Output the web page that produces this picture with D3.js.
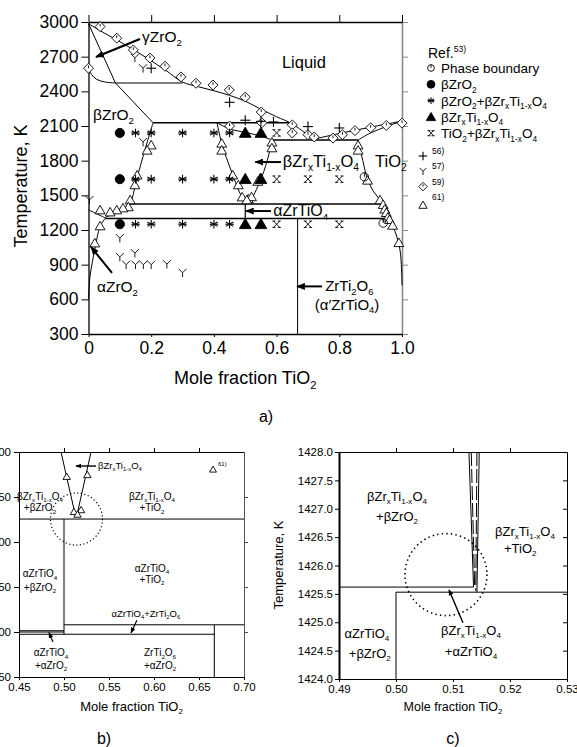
<!DOCTYPE html>
<html><head><meta charset="utf-8">
<script src="https://cdn.jsdelivr.net/npm/d3@7"></script>
<style>
html,body{margin:0;padding:0;background:#fff;}
svg{display:block;}
text{font-family:"Liberation Sans",Arial,Helvetica,sans-serif;fill:#000;}
</style>
</head><body>
<svg id="fig" width="577" height="747"></svg>
<script>
// ---------------- ZrO2–TiO2 phase diagram: data ----------------
// Panel a axes
const xTicksA = [0, 0.2, 0.4, 0.6, 0.8, 1.0];
const xTickLabelsA = ["0", "0.2", "0.4", "0.6", "0.8", "1.0"];
const yTicksA = [300, 600, 900, 1200, 1500, 1800, 2100, 2400, 2700, 3000];

// Phase boundaries [mole fraction TiO2, K]
const liquidusZrO2 = [[0,2985],[0.05,2905],[0.1,2830],[0.15,2750],[0.2,2665],[0.25,2575],[0.3,2480],[0.35,2440],[0.4,2405],[0.45,2365],[0.5,2315],[0.55,2245],[0.6,2180],[0.65,2118],[0.717,1985]];
const gammaSolidus = [[0,2985],[0.086,2472],[0.206,2128]];
const gammaBeta = [[0,2600],[0.01,2545],[0.025,2505],[0.05,2482],[0.086,2472]];
const invariant2472 = [[0.086,2472],[0.30,2472]];
const invariant2128 = [[0.206,2128],[0.642,2128]];
const betaZrO2Solvus = [[0.206,2128],[0.18,1894],[0.155,1650],[0.138,1460],[0.133,1425],[0.115,1378],[0.085,1345],[0.053,1308]];
const betaAlphaZrO2 = [[0,1375],[0.03,1335],[0.053,1305]];
const alphaZrO2Solvus = [[0,600],[0.005,800],[0.02,1030],[0.037,1230],[0.053,1300]];
const ztLeft = [[0.41,2128],[0.425,1950],[0.457,1700],[0.49,1485],[0.513,1425]];
const ztRight = [[0.585,1979],[0.575,1850],[0.553,1660],[0.52,1460],[0.514,1425]];
const ztSolidus = [[0.41,2128],[0.45,2075],[0.5,2045],[0.55,2012],[0.585,1979]];
const eutectic1979 = [[0.585,1979],[0.86,1979]];
const liquidusTiO2 = [[0.717,1985],[0.8,2035],[0.9,2090],[1.0,2143]];
const solidusTiO2 = [[0.86,1979],[0.9,2040],[0.95,2095],[1.0,2143]];
const tio2Solvus = [[0.86,1979],[0.875,1800],[0.89,1640],[0.91,1530],[0.93,1460],[0.94,1400],[0.955,1330],[0.97,1240],[0.985,1130],[0.995,1000],[1.0,720]];
const eutectoid1425 = [[0.133,1425],[0.935,1425]];
const eutectoid1300 = [[0.053,1300],[0.958,1300]];
const zrtio4Line = [[0.5,1425],[0.5,1300]];
const zrti2o6Line = [[0.667,1300],[0.667,300]];

// Experimental points, Ref. 53
const ref53Boundary = [[0.88,1660],[0.94,1260]];
const ref53BetaZrO2 = [[0.1,2040],[0.1,1640],[0.1,1250]];
const ref53TwoPhase = [[0.15,2040],[0.2,2040],[0.3,2040],[0.4,2040],[0.45,2040],
                       [0.15,1640],[0.2,1640],[0.3,1640],[0.4,1640],[0.45,1640],
                       [0.15,1250],[0.2,1250],[0.3,1250],[0.4,1250],[0.45,1250]];
const ref53BetaZT = [[0.5,2040],[0.55,2040],[0.5,1640],[0.55,1640],[0.5,1250],[0.55,1250]];
const ref53TiO2ZT = [[0.6,2040],[0.6,1640],[0.7,1640],[0.8,1640],[0.6,1250],[0.7,1250],[0.8,1250]];
// Other references
const ref56 = [[0.2,2600],[0.45,2305],[0.5,2150],[0.55,2140],[0.59,2135],[0.7,2095],[0.8,2083]];
const ref57 = [[0.148,2690],[0.174,2600],[0.174,1962],[0.003,1460],[0.1,1130],[0.1,967],[0.148,1000],
               [0.12,900],[0.15,900],[0.175,900],[0.2,900],[0.25,905],[0.3,830]];
const ref59 = [[0,2600],[0.037,2960],[0.09,2860],[0.143,2758],[0.196,2688],[0.244,2617],[0.295,2525],
               [0.343,2470],[0.397,2455],[0.449,2412],[0.5,2350],[0.551,2221],[0.45,2100],[0.553,2128],
               [0.65,2110],[0.65,2040],[0.70,2025],[0.72,2005],[0.78,1995],[0.81,2025],[0.85,2060],
               [0.90,2085],[0.95,2105],[1.0,2125]];
const ref61 = [[0.2,1935],[0.187,1890],[0.155,1675],[0.148,1590],[0.133,1460],[0.127,1400],[0.11,1390],
               [0.09,1373],[0.069,1355],[0.037,1373],[0.037,1235],[0.02,1087],
               [0.425,1950],[0.425,1890],[0.46,1675],[0.478,1590],[0.49,1485],[0.51,1470],
               [0.585,1960],[0.585,1910],[0.548,1650],[0.54,1620],[0.52,1487],[0.505,1460],
               [0.86,1935],[0.86,1890],[0.89,1630],[0.93,1460],[0.94,1420],[0.945,1380],[0.95,1350],
               [0.955,1310],[0.96,1290],[0.97,1240],[0.99,1090]];

// Panel b (enlarged near x = 0.5)
const xTicksB = [0.45, 0.50, 0.55, 0.60, 0.65, 0.70];
const yTicksB = [1250, 1300, 1350, 1400, 1450, 1500];
const vLeftB = [[0.4967,1500],[0.513,1428]];
const vRightB = [[0.53,1500],[0.514,1428]];
const ref61B = [[0.503,1473],[0.526,1475],[0.511,1434],[0.519,1436],[0.515,1431]];

// Panel c (enlarged near the eutectoid)
const xTicksC = [0.49, 0.50, 0.51, 0.52, 0.53];
const yTicksC = [1424.0, 1424.5, 1425.0, 1425.5, 1426.0, 1426.5, 1427.0, 1427.5, 1428.0];
const vLeftC = [[0.5128,1428],[0.5136,1425.62]];
const vLeftC2 = [[0.5132,1428],[0.5138,1425.62]];
const vRightC2 = [[0.5142,1428],[0.5140,1425.55]];
const vRightC = [[0.5146,1428],[0.5142,1425.53]];

// ---------------- drawing ----------------
const svg = d3.select('#fig');
svg.append('rect').attr('width',577).attr('height',747).attr('fill','#fff');
const defs = svg.append('defs');
defs.append('marker').attr('id','ah').attr('viewBox','0 0 10 8').attr('refX',9).attr('refY',4)
  .attr('markerWidth',9).attr('markerHeight',7).attr('markerUnits','userSpaceOnUse').attr('orient','auto')
  .append('path').attr('d','M0,0L10,4L0,8Z').attr('fill','#000');
defs.append('marker').attr('id','ahs').attr('viewBox','0 0 10 8').attr('refX',9).attr('refY',4)
  .attr('markerWidth',6).attr('markerHeight',5).attr('markerUnits','userSpaceOnUse').attr('orient','auto')
  .append('path').attr('d','M0,0L10,4L0,8Z').attr('fill','#000');

// text with _sub / ^sup pieces, e.g. "βZr_xTi_{1-x}O_4"
function parseRich(s){
  const parts=[]; let i=0, buf='';
  while(i<s.length){
    const c=s[i];
    if(c==='_'||c==='^'){
      if(buf){parts.push([buf,0]);buf='';}
      let t;
      if(s[i+1]==='{'){const j=s.indexOf('}',i); t=s.slice(i+2,j); i=j+1;}
      else {t=s[i+1]; i+=2;}
      parts.push([t,c==='_'?1:-1]);
    } else {buf+=c;i++;}
  }
  if(buf)parts.push([buf,0]);
  return parts;
}
function rich(g,x,y,s,fs,anchor,extra){
  const t=g.append('text').attr('x',x).attr('y',y).attr('font-size',fs)
    .attr('text-anchor',anchor||'start');
  if(extra) extra(t);
  let cur=0;
  parseRich(s).forEach(([str,k])=>{
    const target = k===1 ? fs*0.25 : (k===-1 ? -fs*0.42 : 0);
    const ts=t.append('tspan').attr('dy',target-cur).text(str);
    if(k) ts.attr('font-size',fs*0.62);
    cur=target;
  });
  return t;
}
function path(g,pts,sx,sy,o={}){
  return g.append('path')
    .attr('d',d3.line().x(d=>sx(d[0])).y(d=>sy(d[1])).curve(o.curve||d3.curveLinear)(pts))
    .attr('fill','none').attr('stroke',o.color||'#000').attr('stroke-width',o.w||1)
    .attr('stroke-dasharray',o.dash||null);
}
function arrow(g,a,b,sx,sy,w,small){
  g.append('line').attr('x1',sx(a[0])).attr('y1',sy(a[1])).attr('x2',sx(b[0])).attr('y2',sy(b[1]))
    .attr('stroke','#000').attr('stroke-width',w||1.8).attr('marker-end',small?'url(#ahs)':'url(#ah)');
}
const triOpen = d3.symbol().type(d3.symbolTriangle);
function mark(g,type,x,y,k){
  k=k||1;
  const s=g.append('g').attr('transform',`translate(${x},${y})`).attr('stroke','#000').attr('fill','none').attr('stroke-width',0.9);
  if(type==='boundary'){
    s.append('circle').attr('r',4.2*k);
    s.append('line').attr('x1',0).attr('y1',0).attr('x2',0).attr('y2',-4.2*k);
  } else if(type==='dot'){
    s.append('circle').attr('r',4.6*k).attr('fill','#000');
  } else if(type==='asterisk'){
    const r=4.3*k;
    [0,60,120].forEach(a=>{const c=Math.cos(a*Math.PI/180)*r, d=Math.sin(a*Math.PI/180)*r;
      s.append('line').attr('x1',-d).attr('y1',-c).attr('x2',d).attr('y2',c).attr('stroke-width',1.1);});
    s.append('line').attr('x1',-r).attr('y1',0).attr('x2',r).attr('y2',0).attr('stroke-width',1.1);
  } else if(type==='triFill'){
    s.append('path').attr('d',triOpen.size(60*k*k)()).attr('fill','#000').attr('transform','translate(0,1)');
  } else if(type==='xcap'){
    const r=3.2*k;
    s.append('line').attr('x1',-r).attr('y1',-r).attr('x2',r).attr('y2',r);
    s.append('line').attr('x1',-r).attr('y1',r).attr('x2',r).attr('y2',-r);
    s.append('line').attr('x1',-r-1).attr('y1',-r).attr('x2',-r+2).attr('y2',-r);
    s.append('line').attr('x1',r-2).attr('y1',-r).attr('x2',r+1).attr('y2',-r);
    s.append('line').attr('x1',-r-1).attr('y1',r).attr('x2',-r+2).attr('y2',r);
    s.append('line').attr('x1',r-2).attr('y1',r).attr('x2',r+1).attr('y2',r);
  } else if(type==='plus'){
    const r=5*k;
    s.append('line').attr('x1',-r).attr('y1',0).attr('x2',r).attr('y2',0).attr('stroke-width',1.1);
    s.append('line').attr('x1',0).attr('y1',-r).attr('x2',0).attr('y2',r).attr('stroke-width',1.1);
  } else if(type==='Y'){
    const r=4*k;
    s.append('path').attr('d',`M${-r},${-r}L0,0L${r},${-r}M0,0L0,${r*1.1}`);
  } else if(type==='diamond'){
    const r=5*k;
    s.append('path').attr('d',`M0,${-r}L${r},0L0,${r}L${-r},0Z`).attr('fill','#fff');
    s.append('line').attr('x1',0).attr('y1',-r*0.55).attr('x2',0).attr('y2',0);
  } else if(type==='triOpen'){
    s.append('path').attr('d',triOpen.size(42*k*k)()).attr('fill','#fff').attr('transform','translate(0,1)');
  }
}
function styleAxis(g,fs,color){
  g.selectAll('text').attr('font-size',fs).attr('fill','#000').attr('font-family','"Liberation Sans",Arial,sans-serif');
  g.selectAll('path,line').attr('stroke',color||'#000');
  g.attr('font-size',null);
}

// ================= panel a =================
const xA = d3.scaleLinear().domain([0,1]).range([88.5,402]);
const yA = d3.scaleLinear().domain([300,3000]).range([334,22]);
const gA = svg.append('g');

// axes
const axRight = gA.append('g').attr('transform',`translate(${xA(1)},0)`)
  .call(d3.axisRight(yA).tickValues(yTicksA).tickFormat('').tickSize(6).tickSizeOuter(0));
styleAxis(axRight,10,'#8a8a8a'); axRight.select('.domain').attr('stroke-width',1.6);
const axTop = gA.append('g').attr('transform',`translate(0,${yA(3000)})`)
  .call(d3.axisTop(xA).tickValues(xTicksA).tickFormat('').tickSize(7).tickSizeOuter(0));
styleAxis(axTop,10); axTop.select('.domain').attr('stroke-width',1.3);
const axBottom = gA.append('g').attr('transform',`translate(0,${yA(300)})`)
  .call(d3.axisBottom(xA).tickValues(xTicksA).tickFormat((d,i)=>xTickLabelsA[i]).tickSize(3).tickPadding(5).tickSizeOuter(0));
styleAxis(axBottom,17.5); axBottom.select('.domain').attr('stroke-width',1.3);
const axLeft = gA.append('g').attr('transform',`translate(${xA(0)},0)`)
  .call(d3.axisLeft(yA).tickValues(yTicksA).tickFormat(d3.format('d')).tickSize(7).tickPadding(3).tickSizeOuter(0));
styleAxis(axLeft,17.5); axLeft.select('.domain').attr('stroke-width',1.3);

// boundaries
const smooth = d3.curveCatmullRom.alpha(0.5);
path(gA,liquidusZrO2,xA,yA,{curve:smooth});
path(gA,gammaSolidus,xA,yA);
path(gA,gammaBeta,xA,yA,{curve:smooth});
path(gA,invariant2472,xA,yA,{w:1.2});
path(gA,invariant2128,xA,yA,{w:1.4});
path(gA,betaZrO2Solvus,xA,yA,{curve:smooth});
path(gA,betaAlphaZrO2,xA,yA,{curve:smooth});
path(gA,alphaZrO2Solvus,xA,yA,{curve:smooth});
path(gA,ztLeft,xA,yA,{curve:smooth});
path(gA,ztRight,xA,yA,{curve:smooth});
path(gA,ztSolidus,xA,yA,{curve:smooth});
path(gA,eutectic1979,xA,yA,{w:1.4});
path(gA,liquidusTiO2,xA,yA,{curve:smooth});
path(gA,solidusTiO2,xA,yA,{curve:smooth});
path(gA,tio2Solvus,xA,yA,{curve:smooth});
path(gA,eutectoid1425,xA,yA,{w:1.4});
path(gA,eutectoid1300,xA,yA,{w:1.6});
path(gA,zrtio4Line,xA,yA,{w:1.2});
path(gA,zrti2o6Line,xA,yA);

// points
ref61.forEach(d=>mark(gA,'triOpen',xA(d[0]),yA(d[1])));
ref59.forEach(d=>mark(gA,'diamond',xA(d[0]),yA(d[1])));
ref56.forEach(d=>mark(gA,'plus',xA(d[0]),yA(d[1])));
ref57.forEach(d=>mark(gA,'Y',xA(d[0]),yA(d[1])));
ref53Boundary.forEach(d=>mark(gA,'boundary',xA(d[0]),yA(d[1])));
ref53BetaZrO2.forEach(d=>mark(gA,'dot',xA(d[0]),yA(d[1])));
ref53TwoPhase.forEach(d=>mark(gA,'asterisk',xA(d[0]),yA(d[1])));
ref53BetaZT.forEach(d=>mark(gA,'triFill',xA(d[0]),yA(d[1])));
ref53TiO2ZT.forEach(d=>mark(gA,'xcap',xA(d[0]),yA(d[1])));

// region labels and pointers
rich(gA,xA(0.171),yA(2827),'γZrO_2',15.5);
arrow(gA,[0.164,2853],[0.024,2697],xA,yA,2);
rich(gA,xA(0.617),yA(2602),'Liquid',16.5);
rich(gA,xA(0.0144),yA(2152),'βZrO_2',15.5);
rich(gA,xA(0.62),yA(1745),'βZr_xTi_{1-x}O_4',16.5);
arrow(gA,[0.614,1788],[0.532,1788],xA,yA,2);
rich(gA,xA(0.914),yA(1745),'TiO_2',16.5);
rich(gA,xA(0.589),yA(1321),'αZrTiO_4',16);
arrow(gA,[0.582,1364],[0.502,1364],xA,yA,2);
rich(gA,xA(0.027),yA(663),'αZrO_2',15.5);
arrow(gA,[0.075,828],[0.008,1053],xA,yA,2);
rich(gA,xA(0.755),yA(672),'ZrTi_2O_6',15);
rich(gA,xA(0.722),yA(510),'(α\u2032ZrTiO_4)',15);
arrow(gA,[0.745,712],[0.665,712],xA,yA,2);

// axis titles
rich(gA,(xA(0)+xA(1))/2,384,'Mole fraction TiO_2',18,'middle');
gA.append('text').attr('transform',`translate(27,${(yA(300)+yA(3000))/2+8}) rotate(-90)`)
  .attr('text-anchor','middle').attr('font-size',18).text('Temperature, K');
gA.append('text').attr('x',266).attr('y',422).attr('text-anchor','middle').attr('font-size',16)
  .attr('font-family','"Liberation Serif","Times New Roman",serif').text('a)');

// legend
const lg = svg.append('g');
rich(lg,428,58,'Ref.^{53)}',14);
const legendRows = [
  ['boundary','Phase boundary'],
  ['dot','βZrO_2'],
  ['asterisk','βZrO_2+βZr_xTi_{1-x}O_4'],
  ['triFill','βZr_xTi_{1-x}O_4'],
  ['xcap','TiO_2+βZr_xTi_{1-x}O_4']
];
legendRows.forEach((r,i)=>{
  const y = 68 + i*16.3;
  mark(lg,r[0],431,y, r[0]==='dot'?0.85:0.8);
  rich(lg,441,y+5,r[1],13.5);
});
const legendRefs = [['plus','56)'],['Y','57)'],['diamond','59)'],['triOpen','61)']];
legendRefs.forEach((r,i)=>{
  const y = 152 + i*15.3;
  mark(lg,r[0],423,y+(r[0]==='triOpen'?7:4),0.85);
  lg.append('text').attr('x',432).attr('y',y+2).attr('font-size',8.5).text(r[1]);
});

// ================= panel b =================
const xB = d3.scaleLinear().domain([0.45,0.70]).range([19,244]);
const yB = d3.scaleLinear().domain([1250,1500]).range([677,452]);
const gB = svg.append('g');
const bTop = gB.append('g').attr('transform',`translate(0,${yB(1500)})`)
  .call(d3.axisTop(xB).tickValues(xTicksB.slice(1,-1)).tickFormat('').tickSize(4).tickSizeOuter(0));
styleAxis(bTop,10);
const bRight = gB.append('g').attr('transform',`translate(${xB(0.70)},0)`)
  .call(d3.axisRight(yB).tickValues(yTicksB.slice(1,-1)).tickFormat('').tickSize(4).tickSizeOuter(0));
styleAxis(bRight,10,'#555');
const bBottom = gB.append('g').attr('transform',`translate(0,${yB(1250)})`)
  .call(d3.axisBottom(xB).tickValues(xTicksB).tickFormat(d3.format('.2f')).tickSize(3).tickPadding(3).tickSizeOuter(0));
styleAxis(bBottom,11.5);
const bLeft = gB.append('g').attr('transform',`translate(${xB(0.45)},0)`)
  .call(d3.axisLeft(yB).tickValues(yTicksB).tickFormat(d3.format('d')).tickSize(5).tickPadding(3).tickSizeOuter(0));
styleAxis(bLeft,11.5);

path(gB,vLeftB,xB,yB);
path(gB,vRightB,xB,yB);
path(gB,[[0.45,1425.5],[0.70,1425.5]],xB,yB);
path(gB,[[0.50,1425.5],[0.50,1297.5]],xB,yB);
path(gB,[[0.45,1301.4],[0.50,1301.4]],xB,yB);
path(gB,[[0.45,1300],[0.50,1300]],xB,yB);
path(gB,[[0.50,1308],[0.70,1308]],xB,yB);
path(gB,[[0.45,1297.5],[0.667,1297.5]],xB,yB);
path(gB,[[0.667,1308],[0.667,1250]],xB,yB);
ref61B.forEach(d=>mark(gB,'triOpen',xB(d[0]),yB(d[1]),0.75));
gB.append('circle').attr('cx',xB(0.5139)).attr('cy',yB(1425.5)).attr('r',26)
  .attr('fill','none').attr('stroke','#000').attr('stroke-width',1.2).attr('stroke-dasharray','1.2,2.4');
mark(gB,'triOpen',xB(0.6656),yB(1481),0.7);
gB.append('text').attr('x',xB(0.6656)+5).attr('y',yB(1481)-3).attr('font-size',6).text('61)');

rich(gB,xB(0.5378),yB(1481),'βZr_xTi_{1-x}O_4',9.5);
arrow(gB,[0.5356,1484.4],[0.5133,1484.4],xB,yB,1.4,true);
rich(gB,xB(0.5978),yB(1447),'βZr_xTi_{1-x}O_4',10,'middle');
rich(gB,xB(0.5978),yB(1434),'+TiO_2',10,'middle');
rich(gB,xB(0.4733),yB(1447),'βZr_xTi_{1-x}O_4',10,'middle');
rich(gB,xB(0.4733),yB(1434),'+βZrO_2',10,'middle');
rich(gB,xB(0.5978),yB(1367),'αZrTiO_4',10,'middle');
rich(gB,xB(0.5978),yB(1355),'+TiO_2',10,'middle');
rich(gB,xB(0.4733),yB(1361),'αZrTiO_4',10,'middle');
rich(gB,xB(0.4733),yB(1346),'+βZrO_2',10,'middle');
rich(gB,xB(0.591),yB(1317),'αZrTiO_4+ZrTi_2O_6',9.5,'middle');
arrow(gB,[0.581,1313],[0.5744,1299],xB,yB,1.2,true);
rich(gB,xB(0.4856),yB(1273),'αZrTiO_4',10,'middle');
rich(gB,xB(0.4856),yB(1259),'+αZrO_2',10,'middle');
arrow(gB,[0.4878,1289],[0.4833,1299.5],xB,yB,1.2,true);
rich(gB,xB(0.6067),yB(1273),'ZrTi_2O_6',10,'middle');
rich(gB,xB(0.6067),yB(1259),'+αZrO_2',10,'middle');
rich(gB,(xB(0.45)+xB(0.70))/2,711,'Mole fraction TiO_2',13,'middle');
gB.append('text').attr('x',104).attr('y',744).attr('text-anchor','middle').attr('font-size',16)
  .attr('font-family','"Liberation Serif","Times New Roman",serif').text('b)');

// ================= panel c =================
const xC = d3.scaleLinear().domain([0.49,0.53]).range([339,567]);
const yC = d3.scaleLinear().domain([1424,1428]).range([679,452]);
const gC = svg.append('g');
const cTop = gC.append('g').attr('transform',`translate(0,${yC(1428)})`)
  .call(d3.axisTop(xC).tickValues(xTicksC.slice(1,-1)).tickFormat('').tickSize(4).tickSizeOuter(0));
styleAxis(cTop,10);
const cRight = gC.append('g').attr('transform',`translate(${xC(0.53)},0)`)
  .call(d3.axisLeft(yC).tickValues(yTicksC.slice(1,-1)).tickFormat('').tickSize(4).tickSizeOuter(0));
styleAxis(cRight,10);
const cBottom = gC.append('g').attr('transform',`translate(0,${yC(1424)})`)
  .call(d3.axisBottom(xC).tickValues(xTicksC).tickFormat(d3.format('.2f')).tickSize(3).tickPadding(3).tickSizeOuter(0));
styleAxis(cBottom,11.5);
const cLeft = gC.append('g').attr('transform',`translate(${xC(0.49)},0)`)
  .call(d3.axisLeft(yC).tickValues(yTicksC).tickFormat(d3.format('.1f')).tickSize(4).tickPadding(2).tickSizeOuter(0));
styleAxis(cLeft,11.5); cLeft.select('.domain').attr('stroke-width',2);

path(gC,vLeftC,xC,yC);
path(gC,vLeftC2,xC,yC,{dash:'14,3'});
path(gC,vRightC2,xC,yC,{dash:'14,3'});
path(gC,vRightC,xC,yC);
path(gC,[[0.49,1425.62],[0.5136,1425.62]],xC,yC);
path(gC,[[0.50,1425.53],[0.53,1425.53]],xC,yC);
path(gC,[[0.50,1425.53],[0.50,1424]],xC,yC);
gC.append('circle').attr('cx',xC(0.50877)).attr('cy',yC(1425.84)).attr('r',41)
  .attr('fill','none').attr('stroke','#000').attr('stroke-width',1.6).attr('stroke-dasharray','1.4,3.2');

rich(gC,xC(0.50018),yC(1427.14),'βZr_xTi_{1-x}O_4',13,'middle');
rich(gC,xC(0.50018),yC(1426.78),'+βZrO_2',13,'middle');
rich(gC,xC(0.52263),yC(1426.52),'βZr_xTi_{1-x}O_4',13,'middle');
rich(gC,xC(0.5218),yC(1426.22),'+TiO_2',13,'middle');
rich(gC,xC(0.4949),yC(1424.72),'αZrTiO_4',13,'middle');
rich(gC,xC(0.4954),yC(1424.37),'+βZrO_2',13,'middle');
rich(gC,xC(0.51316),yC(1424.78),'βZr_xTi_{1-x}O_4',13,'middle');
rich(gC,xC(0.51316),yC(1424.41),'+αZrTiO_4',13,'middle');
arrow(gC,[0.51175,1424.99],[0.5093,1425.57],xC,yC,1.4,true);
rich(gC,(xC(0.49)+xC(0.53))/2,711,'Mole fraction TiO_2',12.5,'middle');
gC.append('text').attr('transform',`translate(283,${565}) rotate(-90)`)
  .attr('text-anchor','middle').attr('font-size',13).text('Temperature, K');
gC.append('text').attr('x',453).attr('y',744).attr('text-anchor','middle').attr('font-size',16)
  .attr('font-family','"Liberation Serif","Times New Roman",serif').text('c)');
</script>
</body></html>
